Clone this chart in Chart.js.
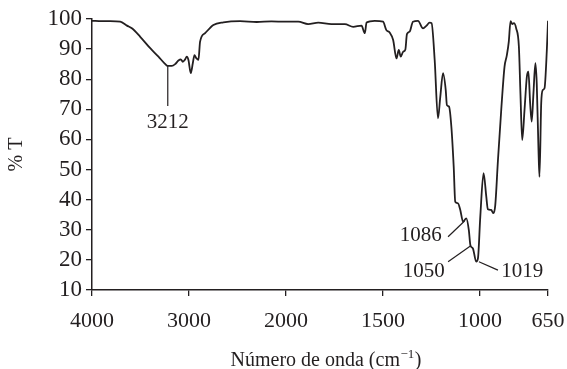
<!DOCTYPE html>
<html><head><meta charset="utf-8">
<script src="https://cdn.jsdelivr.net/npm/chart.js@4/dist/chart.umd.min.js"></script>
<style>html,body{margin:0;padding:0;background:#fff}#wrap{width:567px;height:369px}</style>
</head><body><div id="wrap"><canvas id="c" width="567" height="369"></canvas></div>
<script>
// Spectrum: wavenumber (cm-1) and % transmittance
const wavenumbers = [4000,3900,3812,3709,3640,3589,3503,3400,3315,3250,3219,3177,3143,3109,3085,3064,3040,3023,3006,2982,2961,2944,2927,2903,2886,2834,2749,2646,2474,2302,2150,2011,1937,1886,1834,1766,1697,1654,1611,1594,1585,1543,1500,1483,1466,1448,1431,1419,1409,1397,1385,1377,1363,1346,1320,1294,1277,1260,1250,1234,1217,1205,1191,1177,1171,1160,1148,1136,1128,1114,1102,1088,1071,1058,1050,1037,1020,1011,999,982,968,960,943,931,922,908,891,874,862,852,843,834,826,814,800,792,783,771,759,751,742,734,725,715,708,699,694,685,677,668,656,650];
const transmittance = [99.4,99.3,99.3,99.1,97.8,96.9,94.1,90.3,87.5,85.2,84.4,84.4,85.0,86.2,86.6,85.8,86.6,87.5,86.4,82.0,85.3,88.0,87.1,86.4,92.5,95.3,98.0,98.9,99.3,99.0,99.2,99.1,99.1,98.3,98.8,98.3,98.3,97.4,97.8,95.3,98.8,99.4,99.1,96.3,95.5,93.0,86.9,89.7,87.5,89.1,89.9,95.0,95.8,99.1,99.4,96.9,97.7,98.8,98.6,86.4,67.0,74.2,82.0,76.4,71.4,70.9,64.2,51.0,39.3,38.8,36.6,32.7,33.8,29.9,24.9,23.8,19.4,20.5,34.3,48.8,41.0,36.8,36.6,35.5,38.0,53.0,69.8,84.2,88.0,92.5,99.3,98.3,98.6,96.9,90.8,75.3,59.8,69.8,80.8,82.5,72.0,65.9,75.3,85.3,78.6,56.5,47.6,72.0,76.4,77.0,89.7,99.4];

const xTickValues = [4000,3000,2000,1500,1000,650];
const yMin = 10, yMax = 100, yStep = 10;

// Axis titles
const xTitleMain = 'Número de onda (cm';
const xTitleSup = '−1';
const xTitleEnd = ')';
const yTitle = '% T';

// Peak annotations
const annotationLabels = ['3212','1086','1050','1019'];
const leaderStartWn = [3219,1165,1165,1006];
const leaderStartT  = [84.4,27.7,19.4,19.4];
const leaderEndWn   = [3219,1080,1050,908];
const leaderEndT    = [71.1,32.9,24.6,16.6];
const labelWn       = [3220,1198,1182,891];
const labelT        = [65.6,28.1,16.3,16.3];
const labelAlign    = ['center','right','right','left'];

// Split axis: 4000-2000 at half the scale of 2000-650
function toAxis(wn){ return wn >= 2000 ? 4000 - wn : 2000 + 2*(2000 - wn); }

const INK = '#231f20';
const FONT = 'Liberation Serif';

const datasets = [{
  data: wavenumbers.map((w,i)=>({x: toAxis(w), y: transmittance[i]})),
  borderColor: INK, borderWidth: 1.8, pointRadius: 0,
  cubicInterpolationMode: 'monotone', fill: false
}];
annotationLabels.forEach((lab,i)=>{
  datasets.push({
    data: [{x: toAxis(leaderStartWn[i]), y: leaderStartT[i]}, {x: toAxis(leaderEndWn[i]), y: leaderEndT[i]}],
    borderColor: INK, borderWidth: 1.2, pointRadius: 0, tension: 0, fill: false
  });
});

const labelPlugin = {
  id: 'peakLabels',
  afterDatasetsDraw(chart){
    const {ctx, chartArea, scales:{x, y}} = chart;
    ctx.save();
    ctx.fillStyle = INK;
    ctx.font = '21px "' + FONT + '"';
    ctx.textBaseline = 'middle';
    annotationLabels.forEach((lab,i)=>{
      ctx.textAlign = labelAlign[i];
      ctx.fillText(lab, x.getPixelForValue(toAxis(labelWn[i])), y.getPixelForValue(labelT[i]));
    });
    // x axis title with superscript
    ctx.textBaseline = 'alphabetic';
    ctx.textAlign = 'left';
    const mainFont = '20px "' + FONT + '"', supFont = '13px "' + FONT + '"';
    ctx.font = mainFont; const w1 = ctx.measureText(xTitleMain).width; const w3 = ctx.measureText(xTitleEnd).width;
    ctx.font = supFont; const w2 = ctx.measureText(xTitleSup).width + 1;
    const total = w1 + w2 + w3;
    const cx = (chartArea.left + chartArea.right) / 2 + 6;
    let tx = cx - total/2; const base = 366;
    ctx.font = mainFont; ctx.fillText(xTitleMain, tx, base); tx += w1;
    ctx.font = supFont; ctx.fillText(xTitleSup, tx + 0.5, base - 8); tx += w2;
    ctx.font = mainFont; ctx.fillText(xTitleEnd, tx, base);
    ctx.restore();
  }
};

new Chart(document.getElementById('c'), {
  type: 'line',
  data: { datasets },
  options: {
    responsive: false, animation: false, devicePixelRatio: 1,
    layout: { padding: { top: 19, right: 19, left: 0, bottom: 0 } },
    plugins: { legend: { display: false }, tooltip: { enabled: false } },
    scales: {
      x: {
        type: 'linear', min: 0, max: toAxis(650),
        afterBuildTicks(scale){ scale.ticks = xTickValues.map(v=>({value: toAxis(v)})); },
        afterFit(scale){ scale.height = 79; scale.paddingLeft = 0; scale.paddingRight = 0; },
        ticks: {
          autoSkip: false, maxRotation: 0, padding: 12, color: INK,
          font: { family: FONT, size: 22 },
          callback(value, index){ return String(xTickValues[index]); }
        },
        grid: { drawOnChartArea: false, drawTicks: true, tickLength: 6, color: INK, lineWidth: 1.3 },
        border: { display: true, color: INK, width: 1.5 },
        title: { display: false }
      },
      y: {
        min: yMin, max: yMax,
        afterFit(scale){ scale.width = 92; },
        ticks: { stepSize: yStep, autoSkip: false, padding: 4, color: INK, font: { family: FONT, size: 23 } },
        grid: { drawOnChartArea: false, drawTicks: true, tickLength: 6, color: INK, lineWidth: 1.3 },
        border: { display: true, color: INK, width: 1.5 },
        title: { display: true, text: yTitle, color: INK,
          font: { family: FONT, size: 20 }, padding: { top: 5, bottom: 0 } }
      }
    }
  },
  plugins: [labelPlugin]
});
</script></body></html>
